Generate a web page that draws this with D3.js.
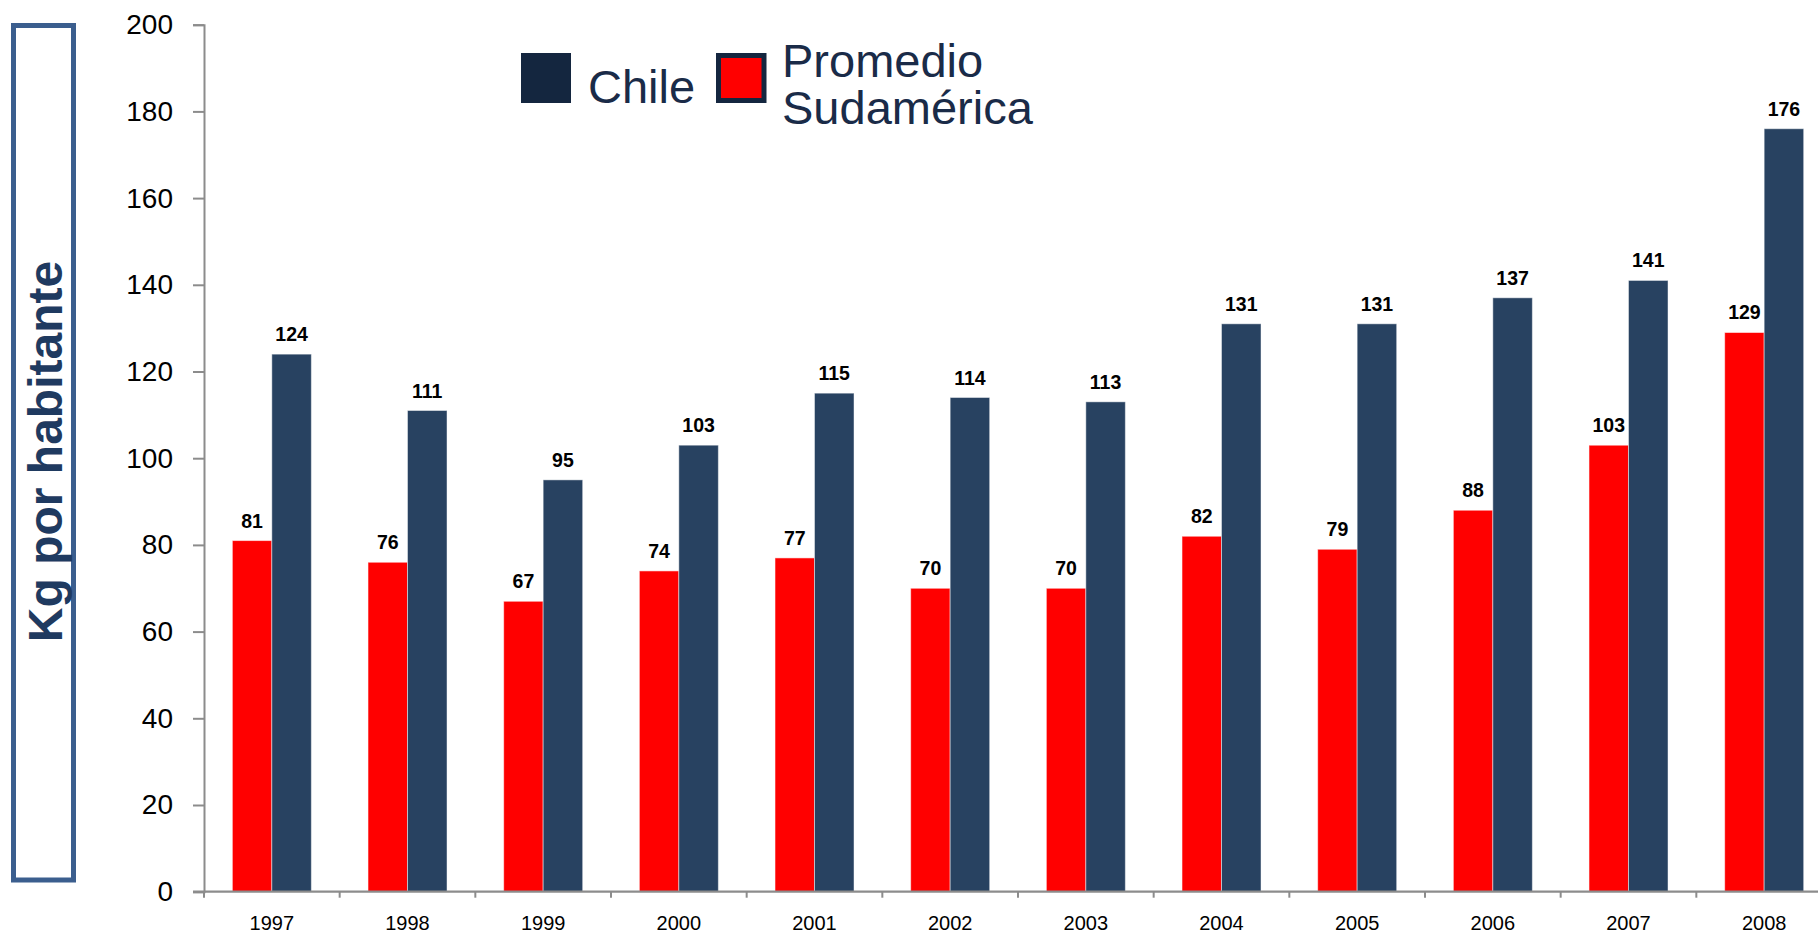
<!DOCTYPE html>
<html>
<head>
<meta charset="utf-8">
<script src="https://cdn.jsdelivr.net/npm/d3@7"></script>
<style>
  html, body { margin: 0; padding: 0; background: #fff; }
  svg { display: block; font-family: "Liberation Sans", Arial, sans-serif; }
</style>
</head>
<body>
<svg id="chart" width="1818" height="935"></svg>
<script>
// ---- data ----
const years = ["1997","1998","1999","2000","2001","2002","2003","2004","2005","2006","2007","2008"];
const sudamerica = [81, 76, 67, 74, 77, 70, 70, 82, 79, 88, 103, 129];
const chile = [124, 111, 95, 103, 115, 114, 113, 131, 131, 137, 141, 176];
const yTicks = [0, 20, 40, 60, 80, 100, 120, 140, 160, 180, 200];
const seriesNames = ["Chile", "Promedio Sudamérica"];
const yTitle = "Kg por habitante";

// ---- styles ----
const RED = "#FF0000";
const NAVY = "#284261";
const LEG_NAVY = "#14263F";
const AXIS = "#8c8c8c";

const svg = d3.select("#chart");

const x0 = d3.scaleBand().domain(years).range([204, 1832]).padding(0);
const x1 = d3.scaleBand().domain(["sud", "chile"]).range([0, x0.bandwidth()])
  .paddingInner(0).paddingOuter(0.717);
const y = d3.scaleLinear().domain([0, 200]).range([891.7, 24.7]);

// y-axis title box
svg.append("rect")
  .attr("x", 13.5).attr("y", 25.5).attr("width", 60).attr("height", 854.5)
  .attr("fill", "none").attr("stroke", "#3B5E8E").attr("stroke-width", 5);
svg.append("text")
  .attr("transform", "translate(61.5,451.5) rotate(-90)")
  .attr("text-anchor", "middle")
  .attr("font-size", 48).attr("font-weight", "bold")
  .attr("fill", "#1F3A60")
  .text(yTitle);

// y axis
const yAxis = svg.append("g")
  .attr("transform", "translate(204,0)")
  .call(d3.axisLeft(y).tickValues(yTicks).tickSize(11).tickPadding(20));
yAxis.select(".domain").attr("stroke", AXIS).attr("stroke-width", 2);
yAxis.selectAll(".tick line").attr("stroke", AXIS).attr("stroke-width", 2);
yAxis.selectAll(".tick text").attr("font-size", 28).attr("fill", "#000")
  .attr("font-family", "\"Liberation Sans\", Arial, sans-serif");

// bars
const groups = svg.append("g").selectAll("g")
  .data(years).join("g")
  .attr("transform", d => `translate(${x0(d)},0)`);

groups.append("rect")
  .attr("x", x1("sud")).attr("width", x1.bandwidth())
  .attr("y", (d, i) => y(sudamerica[i]))
  .attr("height", (d, i) => y(0) - y(sudamerica[i]))
  .attr("fill", RED).attr("stroke", "rgba(255,255,255,0.55)").attr("stroke-width", 1);

groups.append("rect")
  .attr("x", x1("chile")).attr("width", x1.bandwidth())
  .attr("y", (d, i) => y(chile[i]))
  .attr("height", (d, i) => y(0) - y(chile[i]))
  .attr("fill", NAVY).attr("stroke", "rgba(255,255,255,0.45)").attr("stroke-width", 1);

// x axis
const xAxis = svg.append("g")
  .attr("transform", "translate(0,891.7)")
  .call(d3.axisBottom(x0).tickSize(0).tickPadding(24));
xAxis.select(".domain").attr("stroke", AXIS).attr("stroke-width", 2.2)
  .attr("d", "M193,0H1818");
xAxis.selectAll(".tick text").attr("font-size", 20).attr("fill", "#000")
  .attr("font-family", "\"Liberation Sans\", Arial, sans-serif");
// boundary ticks
xAxis.append("g").selectAll("line")
  .data(years).join("line")
  .attr("x1", d => x0(d)).attr("x2", d => x0(d))
  .attr("y1", 0).attr("y2", 6)
  .attr("stroke", AXIS).attr("stroke-width", 2);

// value labels
groups.append("text")
  .attr("x", x1("sud") + x1.bandwidth() / 2)
  .attr("y", (d, i) => y(sudamerica[i]) - 13)
  .attr("text-anchor", "middle")
  .attr("font-size", 19.5).attr("font-weight", "bold").attr("fill", "#000")
  .text((d, i) => sudamerica[i]);
groups.append("text")
  .attr("x", x1("chile") + x1.bandwidth() / 2)
  .attr("y", (d, i) => y(chile[i]) - 13)
  .attr("text-anchor", "middle")
  .attr("font-size", 19.5).attr("font-weight", "bold").attr("fill", "#000")
  .text((d, i) => chile[i]);

// legend
const leg = svg.append("g");
leg.append("rect").attr("x", 521).attr("y", 53).attr("width", 50).attr("height", 50)
  .attr("fill", LEG_NAVY);
leg.append("text").attr("x", 588).attr("y", 102.5)
  .attr("font-size", 47).attr("fill", "#1A2B48").text(seriesNames[0]);
leg.append("rect").attr("x", 718.5).attr("y", 55.5).attr("width", 45.5).attr("height", 45)
  .attr("fill", RED).attr("stroke", LEG_NAVY).attr("stroke-width", 5);
const words = seriesNames[1].split(" ");
const t2 = leg.append("text").attr("x", 782).attr("y", 76.5)
  .attr("font-size", 47).attr("fill", "#1A2B48");
t2.append("tspan").attr("x", 782).attr("y", 76.5).text(words[0]);
t2.append("tspan").attr("x", 782).attr("y", 124).text(words[1]);
</script>
</body>
</html>
